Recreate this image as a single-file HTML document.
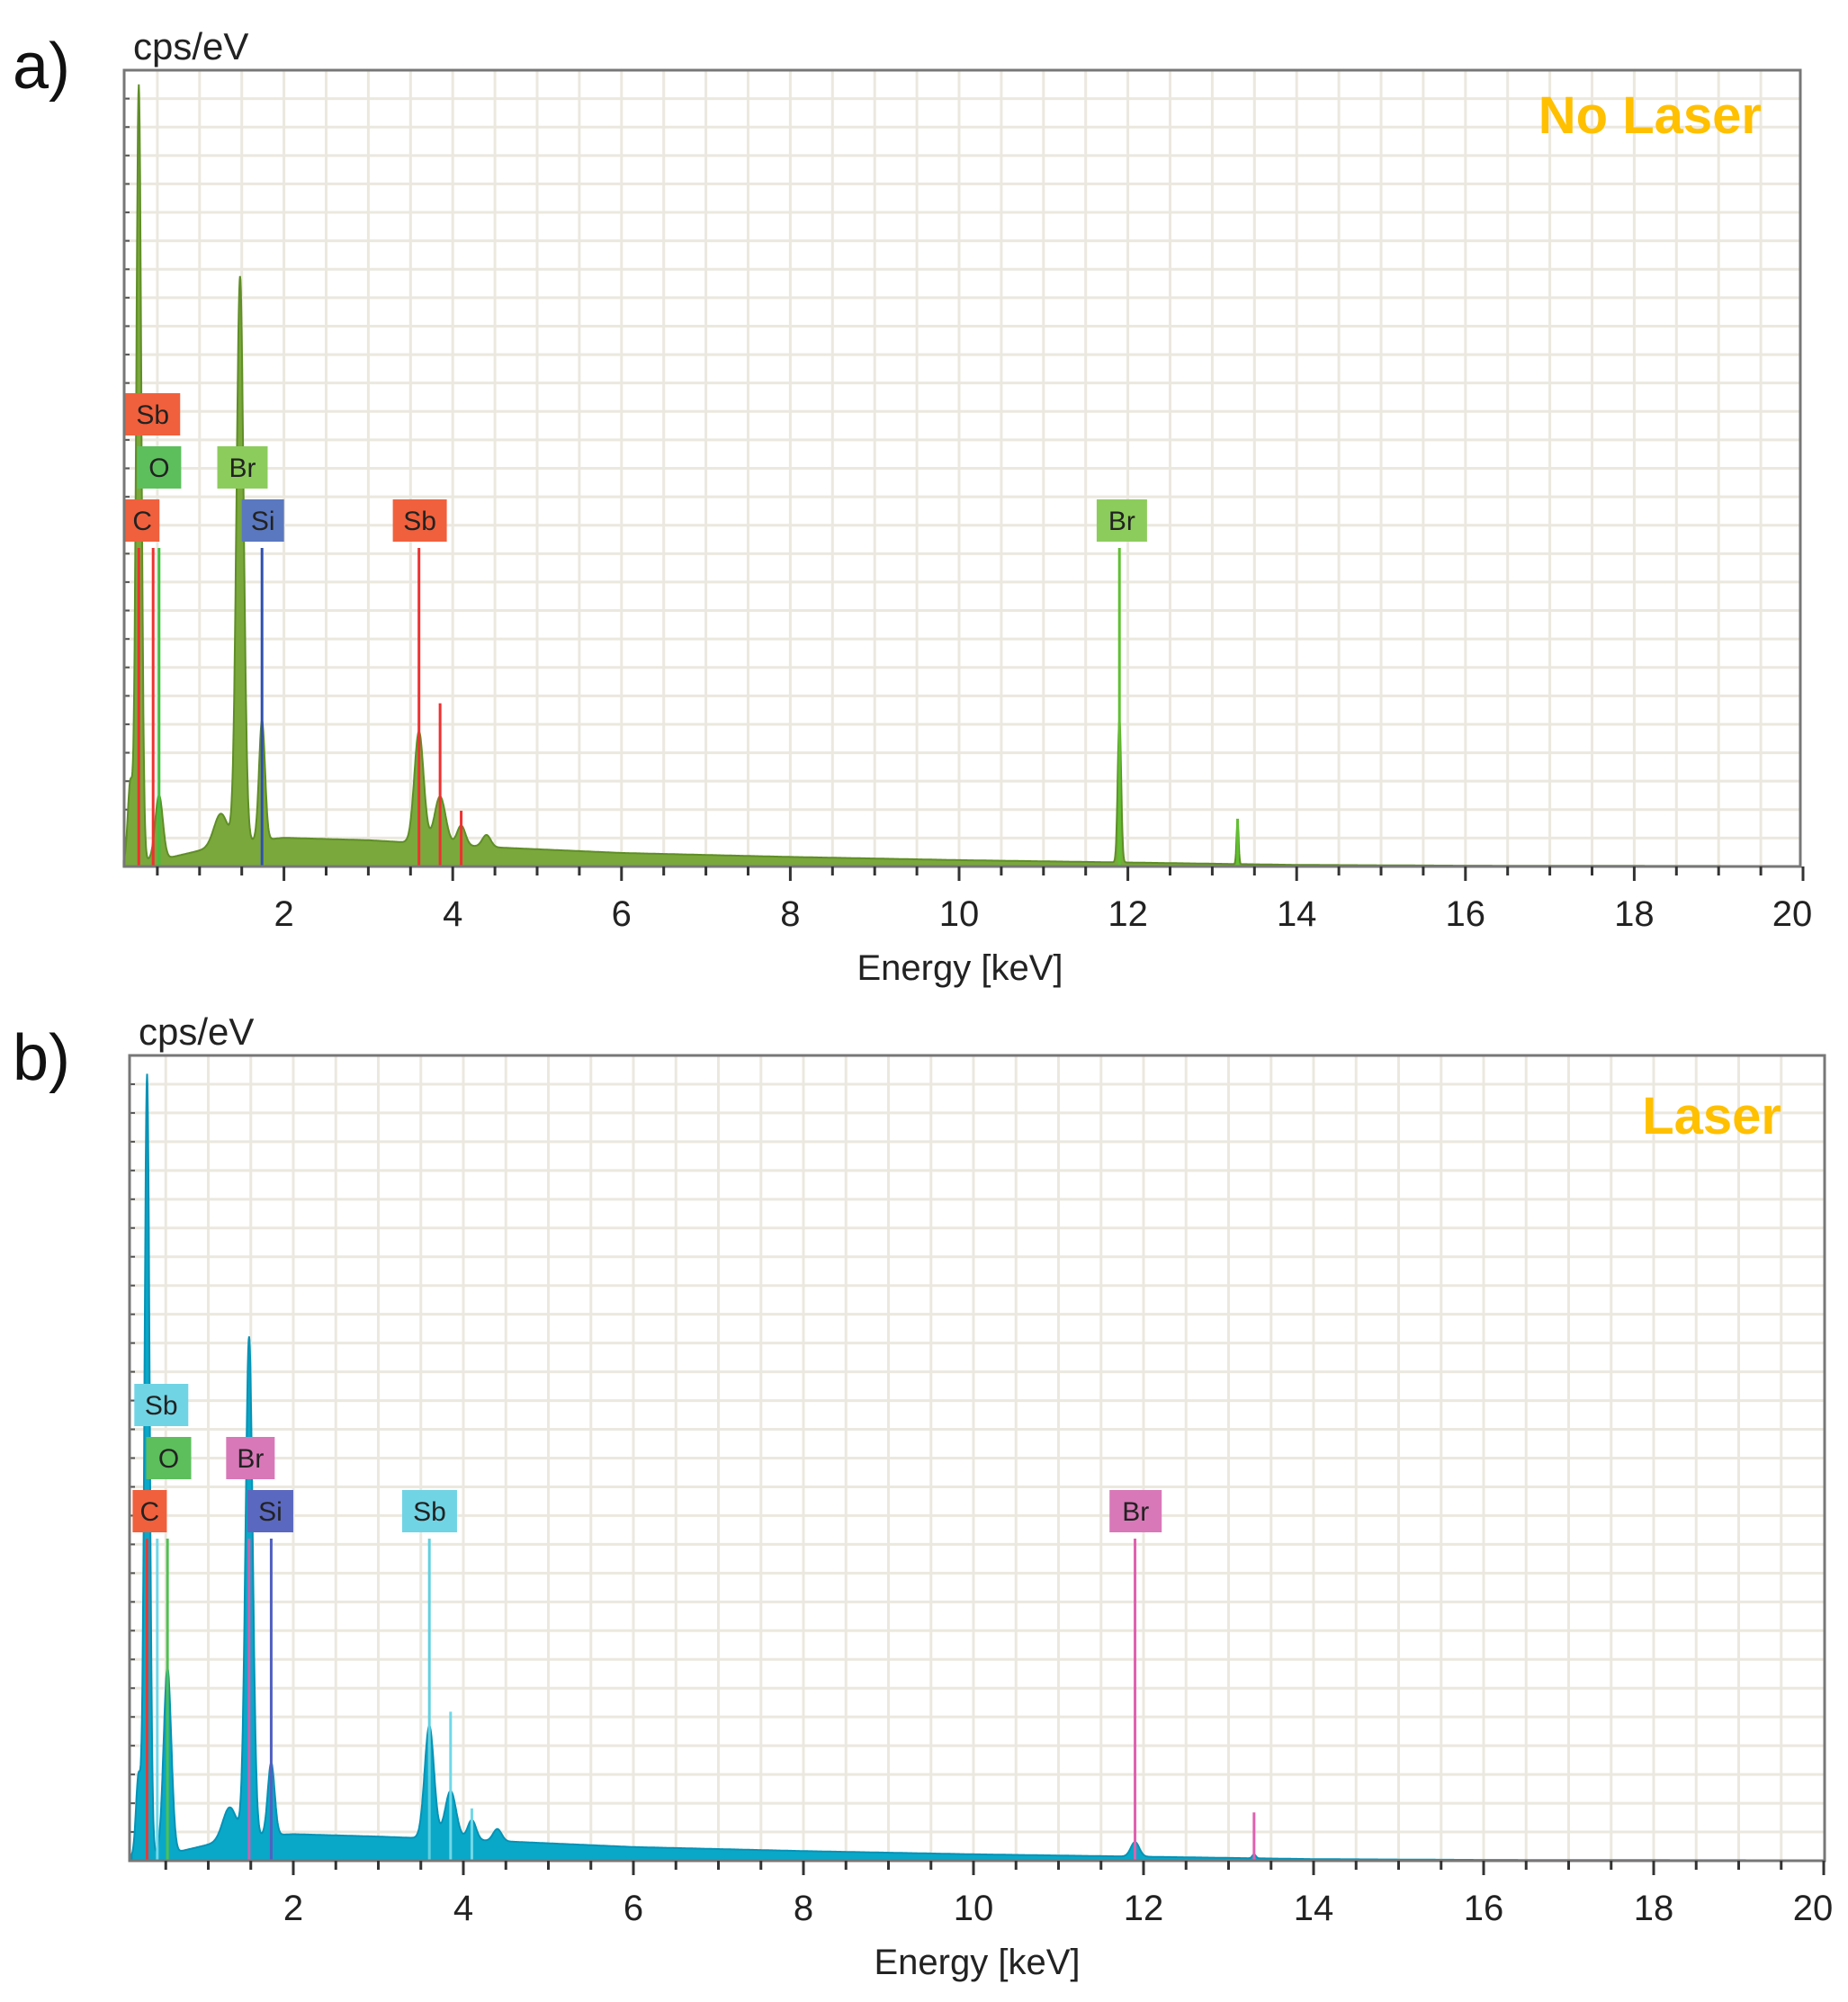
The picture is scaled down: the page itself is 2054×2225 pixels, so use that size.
<!DOCTYPE html>
<html><head><meta charset="utf-8"><style>
html,body{margin:0;padding:0;background:#fff;width:2054px;height:2225px;overflow:hidden}
svg{display:block}
text{font-family:"Liberation Sans","DejaVu Sans",sans-serif}
</style></head><body>
<svg id="fig" width="2054" height="2225" viewBox="0 0 2054 2225" xmlns="http://www.w3.org/2000/svg">
<text x="14" y="98" font-size="72" fill="#111">a)</text>
<text x="14" y="1200" font-size="72" fill="#111">b)</text>
</svg>
<script>
// ---------- data ----------
const xTickLabels = [2,4,6,8,10,12,14,16,18,20];
// Panel a (No Laser) peaks: energy keV, height (% of full scale), sigma keV
const peakEA = [0.18,0.28,0.52,1.25,1.48,1.74,3.60,3.85,4.10,4.40,11.90,13.30];
const peakHA = [10,97.5,8,4,71,15,14,6,2.5,1.5,18,5.5];
const peakWA = [0.03,0.03,0.045,0.08,0.042,0.035,0.055,0.065,0.05,0.05,0.02,0.012];
const bgEA = [0.1,0.6,1.0,1.4,2.0,3.0,3.5,4.5,6,8,10,12,14,16,20];
const bgVA = [0.5,1.0,2.0,3.0,3.6,3.3,3.0,2.4,1.7,1.2,0.8,0.5,0.2,0.1,0.05];
// Panel b (Laser) peaks
const peakEB = [0.18,0.28,0.52,1.25,1.48,1.74,3.60,3.85,4.10,4.40,11.90,13.30];
const peakHB = [10,97,23,4,62,9,14,6,2.5,1.5,1.8,0.5];
const peakWB = [0.03,0.03,0.045,0.08,0.042,0.04,0.055,0.065,0.05,0.05,0.05,0.02];
const bgEB = [0.1,0.6,1.0,1.4,2.0,3.0,3.5,4.5,6,8,10,12,14,16,20];
const bgVB = [0.5,1.0,2.0,3.0,3.3,3.0,2.8,2.4,1.7,1.2,0.8,0.5,0.2,0.1,0.05];
// element marker lines
const markEA = [0.28,0.45,0.52,1.74,3.60,3.85,4.10,11.90,13.30];
const markVA = [40,40,40,40,40,20.5,7,40,6];
const markCA = ['#f03030','#f03030','#40c040','#3050b0','#f03030','#f03030','#f03030','#60c030','#60c030'];
const markEB = [0.28,0.40,0.52,1.48,1.74,3.60,3.85,4.10,11.90,13.30];
const markVB = [40,40,40,40,40,40,18.5,6.5,40,6];
const markCB = ['#e03c3c','#70d8e8','#50c050','#d060b0','#5060c0','#60d0e0','#70d8e8','#70d8e8','#e060b0','#e060b0'];
// element label boxes: text, x keV (left), row
const labTA = ['Sb','O','Br','C','Si','Sb','Br'];
const labXA = [0.12,0.26,1.21,0.12,1.50,3.29,11.63];
const labWA = [61,49,56,38,47,60,56];
const labRA = [0,1,1,2,2,2,2];
const labCA = ['#f0603c','#5cbf5c','#8ccc5c','#f0603c','#5a78c0','#f0603c','#8ccc5c'];
const labTB = ['Sb','O','Br','C','Si','Sb','Br'];
const labXB = [0.13,0.27,1.21,0.11,1.46,3.28,11.6];
const labWB = [60,50,54,38,51,61,58];
const labRB = [0,1,1,2,2,2,2];
const labCB = ['#70d4e4','#5cbf5c','#d878b8','#f0603c','#5a68c0','#70d4e4','#d878b8'];

const NS='http://www.w3.org/2000/svg';
const svg=document.getElementById('fig');
function mk(tag,attrs,parent){const e=document.createElementNS(NS,tag);for(const k in attrs)e.setAttribute(k,attrs[k]);(parent||svg).appendChild(e);return e;}

function panel(cfg){
  const g=mk('g',{});
  
  
  const X=e=>cfg.x0+cfg.kx*e, Y=v=>cfg.bottom-v*(cfg.bottom-cfg.top)/100;
  const gr=mk('g',{stroke:'#ebe8df','stroke-width':3},g);
  
  
  for(let e=0.5;e<20;e+=0.5){const x=X(e);if(x>cfg.left&&x<cfg.right)mk('line',{x1:x,x2:x,y1:cfg.top,y2:cfg.bottom},gr);}
  for(let i=1;i<28;i++){const y=cfg.bottom-i*(cfg.bottom-cfg.top)/28;mk('line',{x1:cfg.left,x2:cfg.right,y1:y,y2:y},gr);}
  for(let i=1;i<28;i++){const y=cfg.bottom-i*(cfg.bottom-cfg.top)/28;mk('line',{x1:cfg.left,x2:cfg.left+6,y1:y,y2:y,stroke:'#555','stroke-width':2},g);}
  const bgv=e=>{const E=cfg.bgE,V=cfg.bgV;if(e<=E[0])return V[0];for(let i=1;i<E.length;i++)if(e<=E[i]){const t=(e-E[i-1])/(E[i]-E[i-1]);return V[i-1]+t*(V[i]-V[i-1]);}return V[V.length-1];};
  let d='M'+X(0.1)+','+cfg.bottom;
  for(let e=0.1;e<=20.001;e+=0.005){let v=bgv(e);for(let i=0;i<cfg.pE.length;i++){const z=(e-cfg.pE[i])/cfg.pW[i];v+=cfg.pH[i]*Math.exp(-0.5*z*z);}
    let x=X(e);if(x>cfg.right)break;d+=' L'+x.toFixed(1)+','+Y(Math.min(v,100)).toFixed(1);}
  d+=' L'+Math.min(X(20),cfg.right)+','+cfg.bottom+' Z';
  const sp=mk('path',{d:d,fill:cfg.fill,stroke:cfg.stroke,'stroke-width':2},g);
  
  
  for(let i=0;i<cfg.mE.length;i++){const m=mk('line',{x1:X(cfg.mE[i]),x2:X(cfg.mE[i]),y1:cfg.bottom,y2:Y(cfg.mV[i]),stroke:cfg.mC[i],'stroke-width':3},g);
    
    }
  for(let i=0;i<cfg.lT.length;i++){const x=X(cfg.lX[i]);const y=cfg.labTop+cfg.lR[i]*59;
    const lg=mk('g',{},g);
    
    
    mk('rect',{x:x,y:y,width:cfg.lW[i],height:47,fill:cfg.lC[i]},lg);
    const t=mk('text',{x:x+cfg.lW[i]/2,y:y+34,'font-size':30,'text-anchor':'middle',fill:'#222'},lg);t.textContent=cfg.lT[i];}
  const fr=mk('rect',{x:cfg.left,y:cfg.top,width:cfg.right-cfg.left,height:cfg.bottom-cfg.top,fill:'none',stroke:'#777','stroke-width':3},g);
  
  
  for(let e=0.5;e<=20.01;e+=0.5){const x=X(e);if(x<cfg.left)continue;const maj=Math.abs(e-Math.round(e))<0.01&&Math.round(e)%2===0;
    mk('line',{x1:x,x2:x,y1:cfg.bottom,y2:cfg.bottom+(maj?16:10),stroke:'#333','stroke-width':3},g);}
  for(const v of xTickLabels){const t=mk('text',{x:X(v)-(v===20?12:0),y:cfg.bottom+66,'font-size':40,'text-anchor':'middle',fill:'#222'},g);t.textContent=v;
    
    }
  const at=mk('text',{x:cfg.titleX,y:cfg.bottom+126,'font-size':40,'text-anchor':'middle',fill:'#222'},g);at.textContent='Energy [keV]';
  
  
  const yt=mk('text',{x:cfg.left+10,y:cfg.top-12,'font-size':42,fill:'#222'},g);yt.textContent='cps/eV';
  
  
  const tl=mk('text',{x:cfg.tagX,y:cfg.tagY,'font-size':58,'font-weight':'bold','text-anchor':'end',fill:'#ffc000'},g);tl.textContent=cfg.tag;
  
  
}
panel({name:'panel-a-no-laser',left:138,right:2001,top:78,bottom:963,x0:128,kx:93.8,
  pE:peakEA,pH:peakHA,pW:peakWA,bgE:bgEA,bgV:bgVA,fill:'#7aa83c',stroke:'#5f8e26',
  mE:markEA,mV:markVA,mC:markCA,lT:labTA,lX:labXA,lW:labWA,lR:labRA,lC:labCA,labTop:437,
  titleX:1067,tag:'No Laser',tagX:1958,tagY:148});
panel({name:'panel-b-laser',left:144,right:2028,top:1173,bottom:2068,x0:137,kx:94.5,
  pE:peakEB,pH:peakHB,pW:peakWB,bgE:bgEB,bgV:bgVB,fill:'#0aa8c8',stroke:'#0592b6',
  mE:markEB,mV:markVB,mC:markCB,lT:labTB,lX:labXB,lW:labWB,lR:labRB,lC:labCB,labTop:1538,
  titleX:1086,tag:'Laser',tagX:1980,tagY:1260});
</script>
</body></html>
